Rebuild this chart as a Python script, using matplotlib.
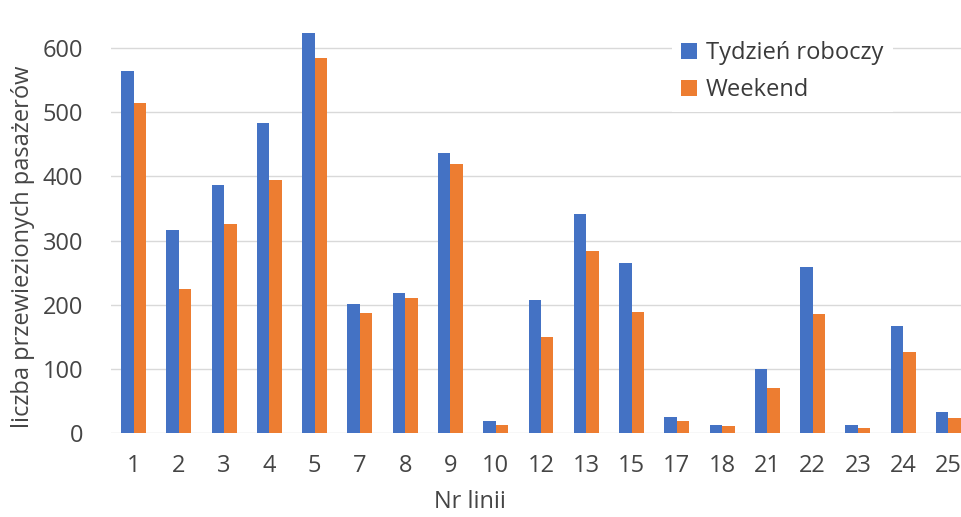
import numpy as np
import matplotlib.pyplot as plt

# Liczba przewiezionych pasażerów wg linii
lines = ['1', '2', '3', '4', '5', '7', '8', '9', '10', '12', '13', '15', '17', '18', '21', '22', '23', '24', '25']
weekday = [564, 316, 387, 483, 624, 201, 219, 437, 18, 208, 342, 265, 25, 13, 99, 259, 13, 167, 32]
weekend = [514, 224, 326, 394, 585, 187, 211, 419, 13, 149, 284, 189, 18, 11, 70, 185, 8, 127, 23]

plt.rcParams['font.family'] = ['Open Sans', 'DejaVu Sans']
fs = 17
txt = '#454545'

fig = plt.figure(figsize=(9.62, 5.17), dpi=100)
W, H = 962, 517
left, right, bottom, top = 111, 971, 433, -16
ax = fig.add_axes([left / W, (H - bottom) / H, (right - left) / W, (bottom - top) / H])

x = np.arange(len(lines))
bw = 0.276
ax.bar(x - bw / 2, weekday, bw, color='#4472C4', label='Tydzień roboczy', zorder=3)
ax.bar(x + bw / 2, weekend, bw, color='#ED7D31', label='Weekend', zorder=3)

ax.set_xlim(-0.5, len(lines) - 0.5)
ax.set_ylim(0, 700)
ax.set_yticks(range(0, 601, 100))
ax.set_xticks(x)
ax.set_xticklabels(lines)
ax.grid(axis='y', color='#d9d9d9', linewidth=1, zorder=0)
for s in ax.spines.values():
    s.set_visible(False)
ax.tick_params(length=0, labelsize=fs, labelcolor=txt)
ax.tick_params(axis='x', pad=15)
ax.tick_params(axis='y', pad=20)

fig.text(470 / W, 1 - 490 / H, 'Nr linii', fontsize=fs, color=txt, ha='center', va='top')
fig.text(23 / W, 1 - 247 / H, 'liczba przewiezionych pasażerów', fontsize=fs,
         color=txt, rotation=90, ha='center', va='center')

leg = ax.legend(loc='upper left', bbox_to_anchor=(660 / W, 1 - 20 / H), bbox_transform=fig.transFigure,
                frameon=True, facecolor='white', edgecolor='none', framealpha=1, fontsize=fs,
                handlelength=0.65, handleheight=0.65, handletextpad=0.4, labelspacing=0.55,
                borderpad=0.4, fancybox=False)
for t in leg.get_texts():
    t.set_color('#3a3a3a')
leg.set_zorder(5)

fig.savefig('out.png', dpi=100)
